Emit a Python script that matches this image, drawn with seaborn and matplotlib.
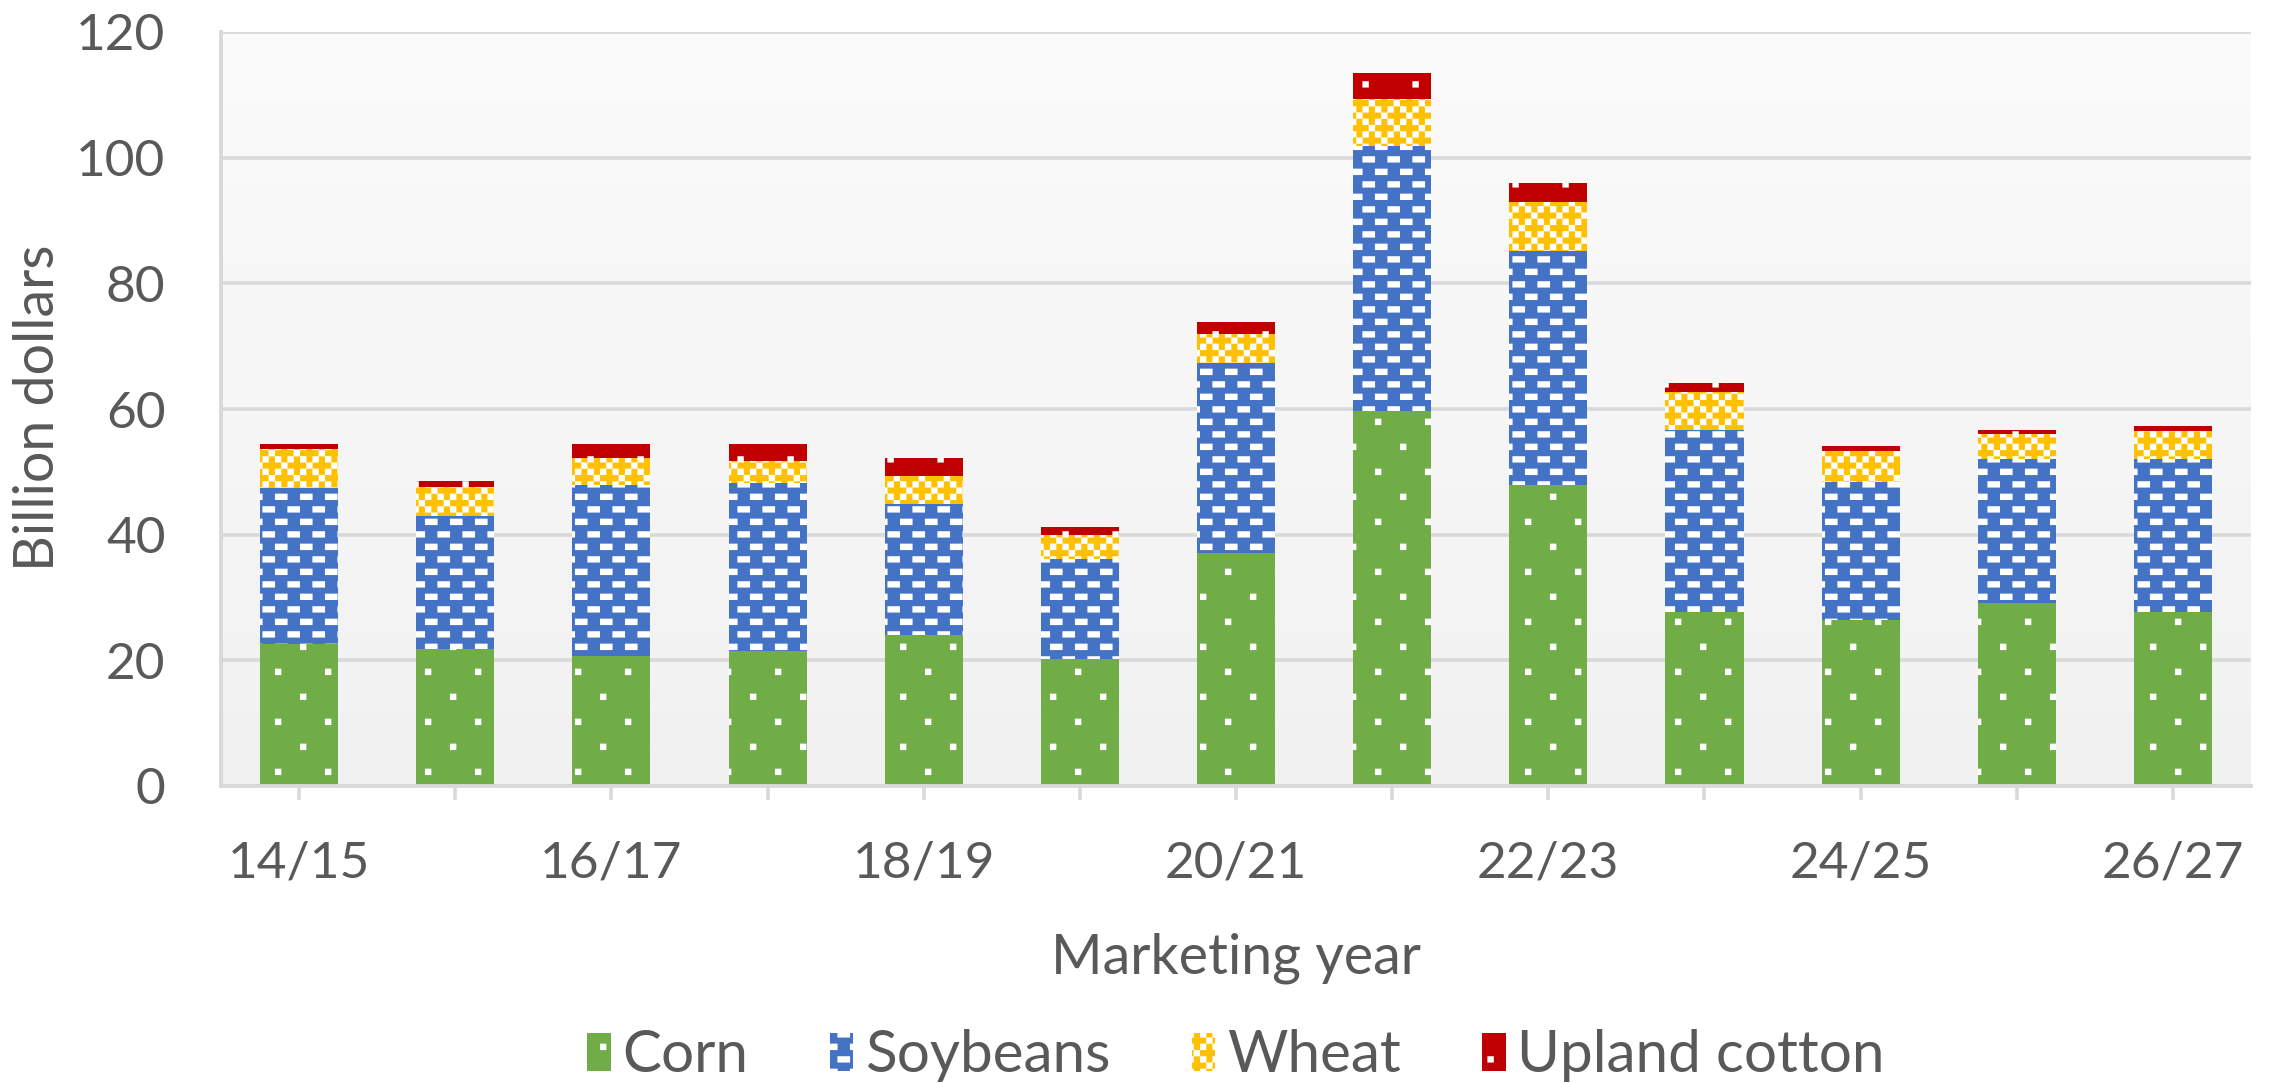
import numpy as np
import pandas as pd
import matplotlib
matplotlib.use("Agg")
import matplotlib.pyplot as plt
import matplotlib.hatch as mhatch
from matplotlib.path import Path
from matplotlib.patches import Patch
from matplotlib.colors import LinearSegmentedColormap
import seaborn as sns

# ---------------- data ----------------
years = ["14/15", "15/16", "16/17", "17/18", "18/19", "19/20", "20/21",
         "21/22", "22/23", "23/24", "24/25", "25/26", "26/27"]
corn = [22.6, 21.8, 20.7, 21.5, 24.1, 20.2, 37.1, 59.7, 47.9, 27.7, 26.4, 29.1, 27.7]
soybeans = [24.8, 21.2, 27.2, 26.8, 20.8, 16.0, 30.3, 42.2, 37.2, 28.9, 22.0, 23.0, 24.3]
wheat = [6.2, 4.6, 4.3, 3.4, 4.4, 3.7, 4.5, 7.4, 7.9, 6.1, 4.9, 4.0, 4.5]
cotton = [0.8, 0.9, 2.3, 2.8, 2.9, 1.3, 2.0, 4.1, 2.9, 1.4, 0.8, 0.5, 0.8]
series_names = ["Corn", "Soybeans", "Wheat", "Upland cotton"]
y_ticks = [0, 20, 40, 60, 80, 100, 120]
x_tick_labels = [y if i % 2 == 0 else "" for i, y in enumerate(years)]

colors = ["#70AD47", "#4472C4", "#FFC000", "#C00000"]
hatch_chars = [".", "o", "O", "*"]

# ---------------- bitmap fill patterns (Excel-like) ----------------
NBITS = 32  # bits per hatch unit (1 inch)


def bitmap_rects(rows):
    tile_h = len(rows)
    tile_w = len(rows[0])
    rects = []
    b = 1.0 / NBITS
    for ty in range(NBITS // tile_h):
        for tx in range(NBITS // tile_w):
            for r, row in enumerate(rows):
                c = 0
                while c < tile_w:
                    if row[c] == "#":
                        c0 = c
                        while c < tile_w and row[c] == "#":
                            c += 1
                        x = (tx * tile_w + c0) * b
                        y = (ty * tile_h + r) * b
                        rects.append((x, y, (c - c0) * b, b))
                    else:
                        c += 1
    return rects


def make_hatch(char, rows):
    rects = bitmap_rects(rows)

    class _H(mhatch.HatchPatternBase):
        def __init__(self, hatch, density):
            on = hatch is not None and hatch.count(char) > 0
            self.num_vertices = 5 * len(rects) if on else 0

        def set_vertices_and_codes(self, vertices, codes):
            v = []
            for (x, y, w, h) in rects:
                v += [(x, y), (x + w, y), (x + w, y + h), (x, y + h), (x, y)]
            vertices[:] = np.array(v)
            codes[:] = np.tile([Path.MOVETO, Path.LINETO, Path.LINETO,
                                Path.LINETO, Path.CLOSEPOLY], len(rects))
    return _H


corn_rows = ["##..............",
             "##..............",
             "................",
             "................",
             "................",
             "................",
             "................",
             "................",
             "........##......",
             "........##......",
             "................",
             "................",
             "................",
             "................",
             "................",
             "................"]
soy_rows = ["####....",
            "####....",
            "........",
            "........",
            "....####",
            "....####",
            "........",
            "........"]
wheat_rows = ["##..##..",
              "##..##..",
              "..##....",
              "..##....",
              "##..##..",
              "##..##..",
              "......##",
              "......##"]
cotton_rows = ["................",
               "................",
               "................",
               "................",
               "....##..........",
               "....##..........",
               "................",
               "................",
               "................",
               "................",
               "................",
               "................",
               "............##..",
               "............##..",
               "................",
               "................"]

mhatch._hatch_types[:] = [make_hatch(".", corn_rows), make_hatch("o", soy_rows),
                          make_hatch("O", wheat_rows), make_hatch("*", cotton_rows)]

# ---------------- style ----------------
sns.set_style("white")
plt.rcParams["font.family"] = ["Lato", "DejaVu Sans"]
plt.rcParams["hatch.linewidth"] = 0.1
FS = 37
FS_TITLE = 40
FS_LEG = 42
TXT = "#595959"
GRID = "#d9d9d9"

W, H, DPI = 2277, 1084, 100
fig = plt.figure(figsize=(W / DPI, H / DPI), dpi=DPI)
L, R, T, B = 221, 2251, 32, 786
ax = fig.add_axes([L / W, 1 - B / H, (R - L) / W, (B - T) / H])

# plot-area gradient background
cmap = LinearSegmentedColormap.from_list("bg", ["#f1f1f1", "#fbfbfb"])
ax.imshow(np.linspace(0, 1, 256)[::-1, None], extent=[0, 1, 0, 1],
          transform=ax.transAxes, cmap=cmap, aspect="auto", zorder=0)

# stacked bars: draw cumulative totals from top layer to bottom layer
series = [corn, soybeans, wheat, cotton]
cums = np.cumsum(np.array(series), axis=0)
for i in range(3, -1, -1):
    df = pd.DataFrame({"year": years, "value": cums[i]})
    sns.barplot(data=df, x="year", y="value", color=colors[i], saturation=1,
                hatch=hatch_chars[i], edgecolor="white", linewidth=0,
                width=0.5, errorbar=None, ax=ax, zorder=2)

ax.set_xlim(-0.5, len(years) - 0.5)
ax.set_ylim(0, 120)
ax.set_yticks(y_ticks)
ax.set_yticklabels([str(v) for v in y_ticks])
ax.set_xticks(range(len(years)))
ax.set_xticklabels(x_tick_labels)
ax.set_xlabel("")
ax.set_ylabel("")

ax.set_axisbelow(True)
ax.yaxis.grid(True, color=GRID, linewidth=2.6, zorder=0.5)
ax.xaxis.grid(False)
for s in ["top", "right"]:
    ax.spines[s].set_visible(False)
for s in ["left", "bottom"]:
    ax.spines[s].set_visible(True)
    ax.spines[s].set_color(GRID)
    ax.spines[s].set_linewidth(2.8)
    ax.spines[s].set_zorder(3)

ax.tick_params(axis="y", length=0, pad=40, labelsize=FS, labelcolor=TXT)
ax.tick_params(axis="x", length=10, width=2.6, color=GRID, pad=29,
               labelsize=FS, labelcolor=TXT, bottom=True)

fig.text(39 / W, 1 - 408 / H, "Billion dollars", rotation=90, ha="center",
         va="center", fontsize=FS_TITLE, color=TXT)
fig.text((L + R) / 2 / W, 1 - 958 / H, "Marketing year", ha="center",
         va="center", fontsize=FS_TITLE, color=TXT)

handles = [Patch(facecolor=colors[i], edgecolor="white", hatch=hatch_chars[i],
                 linewidth=0, label=series_names[i]) for i in range(4)]
fig.legend(handles=handles, loc="center", bbox_to_anchor=((L + R) / 2 / W, 1 - 1056 / H),
           ncol=4, frameon=False, fontsize=FS_LEG, labelcolor=TXT,
           handlelength=0.4, handleheight=0.65, handletextpad=0.2,
           columnspacing=1.4, borderaxespad=0)

fig.savefig("out.png", dpi=DPI)
